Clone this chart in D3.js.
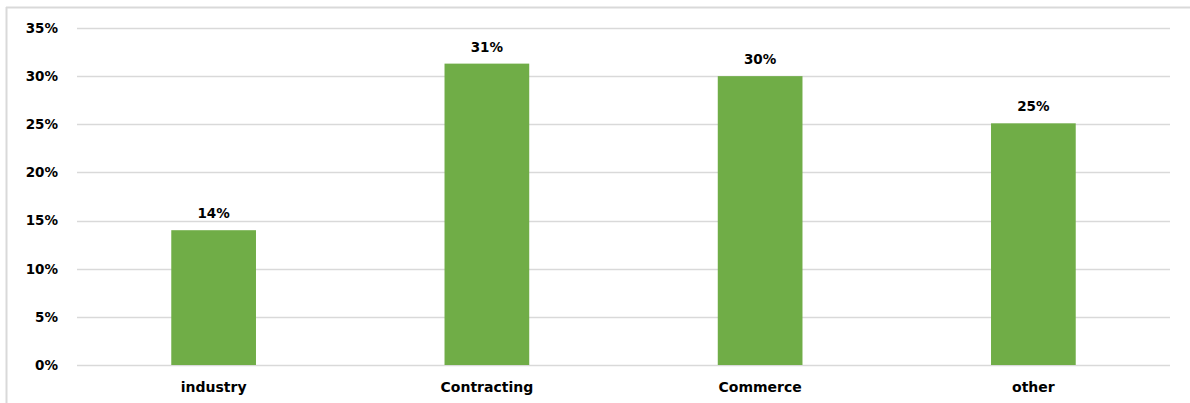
<!DOCTYPE html>
<html>
<head>
<meta charset="utf-8">
<script src="https://cdn.jsdelivr.net/npm/d3@7"></script>
<style>
  body { margin: 0; background: #fff; }
  text { font-family: 'DejaVu Sans', Verdana, sans-serif; font-weight: bold; fill: #000; }
</style>
</head>
<body>
<div id="chart-area"></div>
<script>
// Data
let categories = ['industry', 'Contracting', 'Commerce', 'other'];
let values = [0.14, 0.313, 0.30, 0.251];
let labels = ['14%', '31%', '30%', '25%'];
let yTicks = [0, 0.05, 0.10, 0.15, 0.20, 0.25, 0.30, 0.35];

// SVG drawing area
let totalW = 1190, totalH = 403;
let margin = { top: 28, right: 20, bottom: 38, left: 77 };
let width = 1170 - margin.left,
  height = 365 - margin.top;

let root = d3
  .select('#chart-area')
  .append('svg')
  .attr('width', totalW)
  .attr('height', totalH);

// chart frame (left and top edge only visible)
root.append('line').attr('x1', 6.5).attr('x2', 6.5).attr('y1', 7).attr('y2', totalH)
  .attr('stroke', '#d9d9d9').attr('stroke-width', 2);
root.append('line').attr('x1', 6).attr('x2', totalW).attr('y1', 7.5).attr('y2', 7.5)
  .attr('stroke', '#d9d9d9').attr('stroke-width', 2);

let svg = root.append('g')
  .attr('transform', 'translate(' + margin.left + ',' + margin.top + ')');

// Scales
let x = d3.scaleBand().domain(categories).range([0, width]).paddingInner(0.69).paddingOuter(0.345);
let y = d3.scaleLinear().domain([0, 0.35]).range([height, 0]);

// Gridlines
svg.selectAll('.grid')
  .data(yTicks)
  .enter()
  .append('line')
  .attr('class', 'grid')
  .attr('x1', 0)
  .attr('x2', width)
  .attr('y1', d => Math.round(y(d)) + 0.5)
  .attr('y2', d => Math.round(y(d)) + 0.5)
  .attr('stroke', '#d9d9d9')
  .attr('stroke-width', 1.5);

// Y axis labels
let yAxis = d3.axisLeft(y).tickValues(yTicks).tickFormat(d3.format('.0%')).tickSize(0).tickPadding(19);
svg.append('g').attr('class', 'axis y-axis').call(yAxis)
  .call(g => g.select('.domain').remove())
  .selectAll('text')
  .style('font-size', '13.5px')
  .style('font-family', "'DejaVu Sans', Verdana, sans-serif")
  .style('font-weight', 'bold');

// Bars
svg.selectAll('.bar')
  .data(values)
  .enter()
  .append('rect')
  .attr('class', 'bar')
  .attr('x', (d, i) => x(categories[i]))
  .attr('y', d => y(d))
  .attr('width', x.bandwidth())
  .attr('height', d => height - y(d))
  .attr('fill', '#70ad47');

// Value labels
svg.selectAll('.value')
  .data(values)
  .enter()
  .append('text')
  .attr('class', 'value')
  .attr('x', (d, i) => x(categories[i]) + x.bandwidth() / 2)
  .attr('y', d => y(d) - 12)
  .attr('text-anchor', 'middle')
  .style('font-size', '13.5px')
  .text((d, i) => labels[i]);

// X axis labels
let xAxis = d3.axisBottom(x).tickSize(0).tickPadding(17);
svg.append('g').attr('class', 'axis x-axis')
  .attr('transform', `translate(0, ${height})`)
  .call(xAxis)
  .call(g => g.select('.domain').remove())
  .selectAll('text')
  .style('font-size', '14px')
  .style('font-family', "'DejaVu Sans', Verdana, sans-serif")
  .style('font-weight', 'bold');
</script>
</body>
</html>
